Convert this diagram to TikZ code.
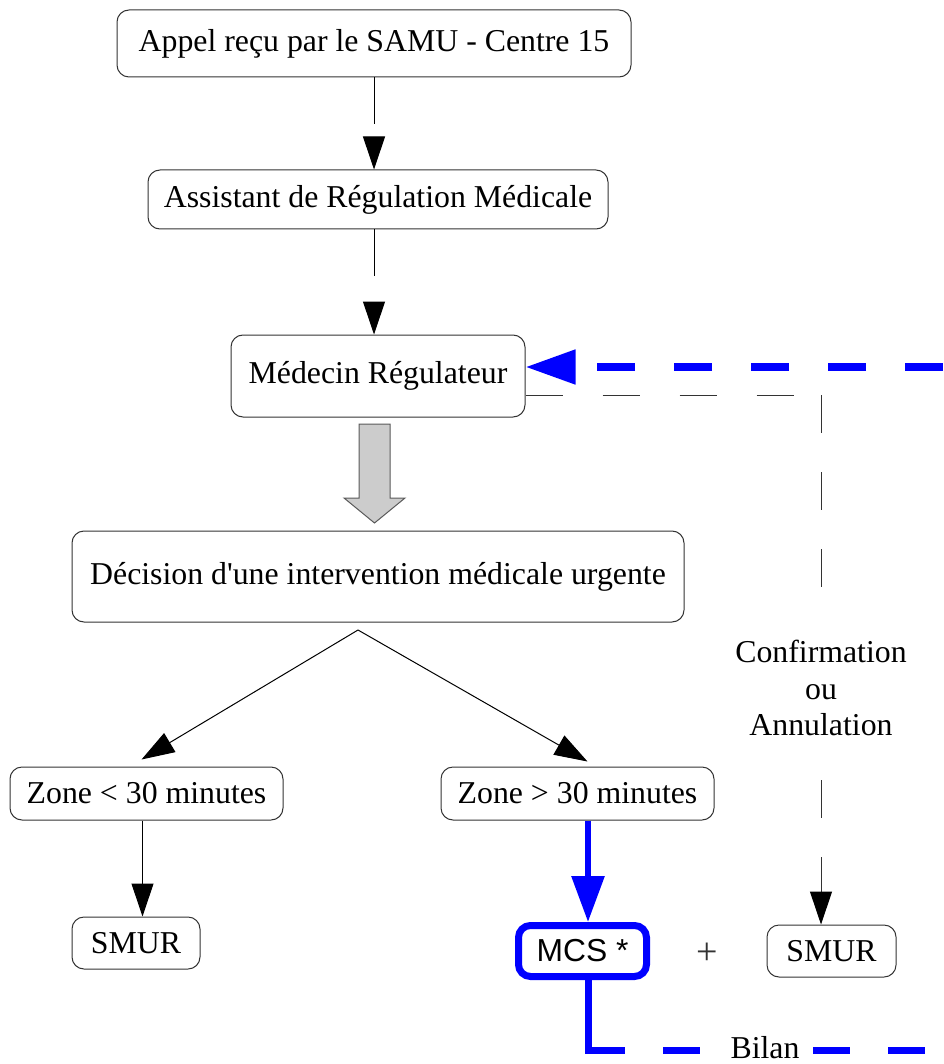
\documentclass[tikz,border=0pt]{standalone}
\usepackage{fontspec}
\setmainfont{Liberation Serif}
\newfontfamily\mcsfont{Liberation Sans}
\usetikzlibrary{arrows.meta}
\definecolor{samublue}{RGB}{0,0,255}
\definecolor{boxline}{RGB}{51,51,51}
\definecolor{arrowgray}{RGB}{204,204,204}
\definecolor{arrowedge}{RGB}{90,90,90}

\begin{document}
\begin{tikzpicture}[
        x=1pt, y=-1pt,
        font=\fontsize{31.8}{36.5}\selectfont,
        >={Triangle[length=33pt, width=22pt]}]

        \tikzstyle{every node}=[inner sep=0pt]
        \tikzstyle{box}=[draw=boxline, line width=1pt, rounded corners=12pt]
        \tikzstyle{flow}=[draw=black, line width=1pt, ->]
        \tikzstyle{gapflow}=[draw=black, line width=1pt, dash pattern=on 47pt off 40pt, ->]
        \tikzstyle{confdash}=[draw=boxline, line width=1pt, dash pattern=on 37pt off 40pt]
        \tikzstyle{confline}=[draw=boxline, line width=1pt, dash pattern=on 38pt off 39pt, -{Triangle[length=33pt, width=22pt, color=black]}]
        \tikzstyle{mcsline}=[draw=samublue, line width=6pt, -{Triangle[length=46pt, width=32pt]}]
        \tikzstyle{retour}=[draw=samublue, line width=8pt, dash pattern=on 38pt off 39pt, -{Triangle[length=50pt, width=33pt]}]
        \tikzstyle{bilanline}=[draw=samublue, line width=7pt]

        \useasboundingbox (0,0) rectangle (943,1064);

        \node[box, minimum width=514pt, minimum height=67pt] (appel) at (374,43.5) {Appel reçu par le SAMU - Centre 15};
        \node[box, minimum width=460pt, minimum height=59pt] (assistant) at (378,199.5) {Assistant de Régulation Médicale};
        \node[box, minimum width=294pt, minimum height=82pt] (medecin) at (378,376) {Médecin Régulateur};
        \node[box, minimum width=612pt, minimum height=91pt] (decision) at (378,576.5) {Décision d\textquotesingle une intervention médicale urgente};
        \node[box, minimum width=273pt, minimum height=53pt] (zone1) at (146.5,793.5) {Zone < 30 minutes};
        \node[box, minimum width=273pt, minimum height=53pt] (zone2) at (577.5,793.5) {Zone > 30 minutes};
        \node[box, minimum width=128pt, minimum height=52pt] (smur1) at (136,943) {SMUR};
        \node[box, draw=samublue, line width=7pt, minimum width=128pt, minimum height=51pt] (mcs) at (582.5,951) {\mcsfont MCS *};
        \node[text=boxline, font=\fontsize{38}{40}\selectfont] (plus) at (707,954) {+};
        \node[box, minimum width=129pt, minimum height=52pt] (smur2) at (831.5,951) {SMUR};

        \coordinate (split) at (358,630);
        \coordinate (retin) at (943,367);
        \coordinate (confcorner) at (821,395);
        \coordinate (bend) at (588,1050);
        \coordinate (bilanout) at (943,1050);

        \draw[gapflow] (appel.south) -- (appel.south |- assistant.north);
        \draw[gapflow] (assistant.south -| appel.south) -- (medecin.north -| appel.south);
        \draw[fill=arrowgray, draw=arrowedge, line width=1pt] (359,424) -- (390,424) -- (390,498) -- (405,498) -- (374.5,523) -- (344,498) -- (359,498) -- cycle;
        \draw[flow] (split) -- ([xshift=-5pt, yshift=7pt]zone1.north);
        \draw[flow] (split) -- ([xshift=10pt, yshift=5pt]zone2.north);
        \draw[flow] ([xshift=-4pt]zone1.south) -- ([xshift=-4pt]zone1.south |- smur1.north);
        \draw[mcsline] ([xshift=10.5pt]zone2.south) -- ([xshift=5.5pt]mcs.north);
        \draw[retour] (retin) -- (medecin.east |- retin);
        \draw[confdash] (medecin.east |- confcorner) -- (confcorner);
        \draw[confline] (confcorner) -- (confcorner |- smur2.north);
        \node[fill=white, inner xsep=6pt, inner ysep=22pt, align=center] (conf) at (821,688) {Confirmation\\ou\\Annulation};
        \draw[bilanline, shorten >=-3.5pt] ([xshift=5.5pt]mcs.south) -- (bend);
        \draw[bilanline, dash pattern=on 37pt off 38pt] (bend) -- (bilanout);
        \node[fill=white, inner xsep=8pt, inner ysep=1pt] (bilan) at (765,1048) {Bilan};
    \end{tikzpicture}
\end{document}
